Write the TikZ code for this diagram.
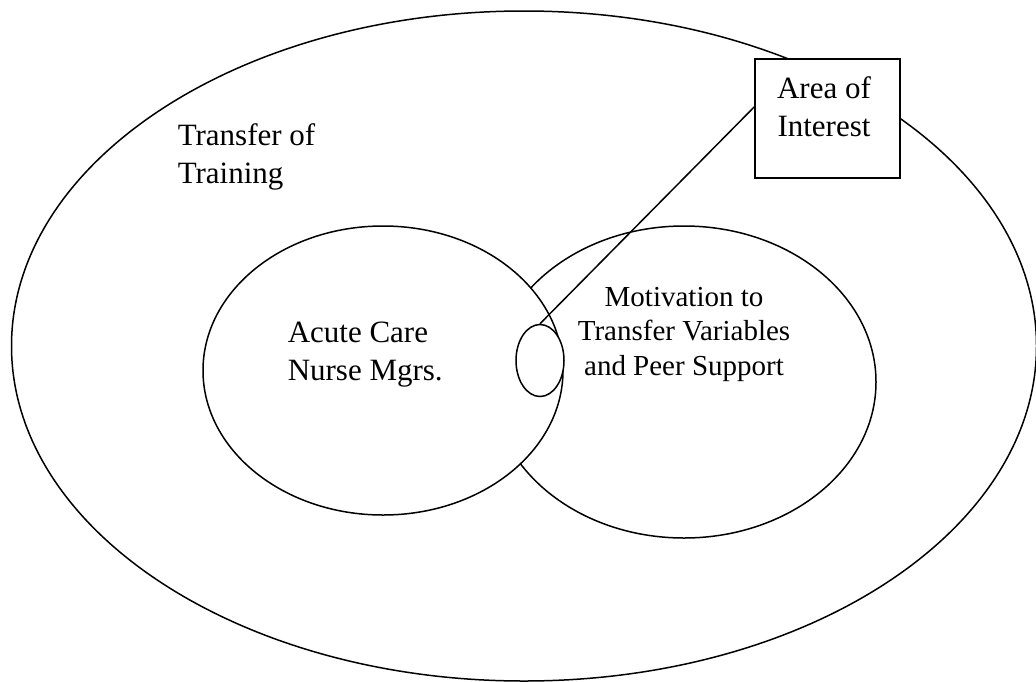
\documentclass[tikz,border=0pt]{standalone}
\usepackage{fontspec}
\setmainfont{Liberation Serif}
\usetikzlibrary{shapes.geometric}

\begin{document}
\begin{tikzpicture}[x=1pt, y=-1pt, line width=1.5pt,
  region/.style={shape=ellipse, draw, fill=white, inner sep=0pt},
  txt/.style={inner sep=0pt},
  bigfont/.style={font=\fontsize{31}{37.5}\selectfont},
  smallfont/.style={font=\fontsize{29}{34.2}\selectfont}]
  \useasboundingbox (0,0) rectangle (1036,681);

  % outer and inner regions
  \node[region, minimum width=1025, minimum height=670] (training) at (524,346) {};
  \node[region, minimum width=384, minimum height=312] (motivation) at (684,382) {};
  \node[region, minimum width=360, minimum height=289] (nurses) at (383,370.5) {};
  \node[region, minimum width=48, minimum height=72] (overlap) at (540,360.5) {};

  % call-out box
  \node[draw, fill=white, minimum width=145, minimum height=119, inner sep=0pt] (aoi) at (827.5,118.5) {};
  \draw (overlap.north) -- (aoi.171);

  % labels (anchored at the baseline of the last line)
  \node[txt, bigfont, align=left, anchor=base west] (trainlbl) at (177,183) {Transfer of\\Training};
  \node[txt, bigfont, align=left, anchor=base west] (nurselbl) at (287,380) {Acute Care\\Nurse Mgrs.};
  \node[txt, smallfont, align=center, anchor=base] (motivlbl) at (684,375) {Motivation to\\Transfer Variables\\and Peer Support};
  \node[txt, bigfont, align=center, anchor=base] (aoilbl) at (824,136) {Area of\\Interest};
\end{tikzpicture}
\end{document}
